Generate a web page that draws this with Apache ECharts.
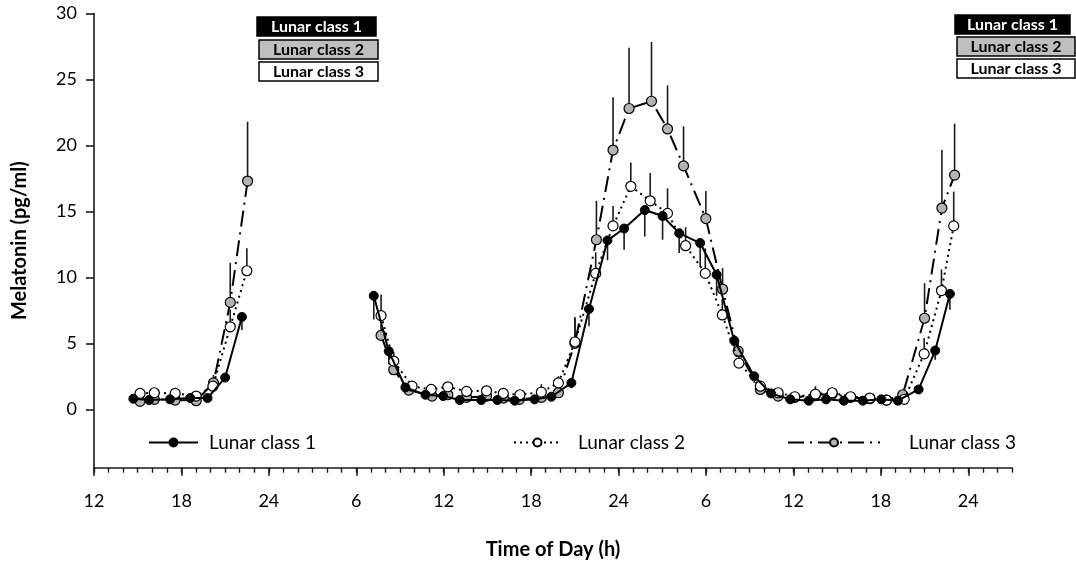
<!DOCTYPE html>
<html><head><meta charset="utf-8">
<script src="https://cdn.jsdelivr.net/npm/echarts@6/dist/echarts.min.js"></script>
<style>html,body{margin:0;padding:0;background:#fff}#c{width:1076px;height:568px}</style>
</head><body><div id="c"></div>
<script>
// ---- data ----
const seriesNames = ['Lunar class 1', 'Lunar class 2', 'Lunar class 3'];
const xTickValues = [12, 18, 24, 30, 36, 42, 48, 54, 60, 66, 72];
const xTickLabels = ['12', '18', '24', '6', '12', '18', '24', '6', '12', '18', '24'];
const yTickValues = [0, 5, 10, 15, 20, 25, 30];

// null marks the gap in sampling (line break)
const hours1 = [14.70, 15.78, 17.22, 18.60, 19.79, 21.0, 22.15, 27,
  31.2, 32.23, 33.37, 34.75, 35.96, 37.1, 38.58, 39.68, 40.87, 42.24, 43.39, 44.76, 45.97,
  47.24, 48.38, 49.8, 51.02, 52.16, 53.6, 54.73, 55.94, 57.31, 58.46, 59.78, 61.05, 62.24,
  63.46, 64.76, 66.03, 67.17, 68.59, 69.73, 70.74];
const mel1 = [0.8, 0.7, 0.75, 0.85, 0.85, 2.4, 7.0, null,
  8.6, 4.4, 1.65, 1.1, 1.0, 0.7, 0.7, 0.7, 0.65, 0.75, 0.95, 2.0, 7.6,
  12.8, 13.7, 15.1, 14.65, 13.35, 12.6, 10.2, 5.2, 2.5, 1.2, 0.75, 0.65, 0.75,
  0.65, 0.65, 0.75, 0.65, 1.5, 4.45, 8.75];
const sem1 = [0.15, 0.15, 0.15, 0.15, 0.15, 0.3, 1.0, null,
  1.8, 1.0, 0.3, 0.2, 0.2, 0.15, 0.15, 0.15, 0.15, 0.15, 0.2, 0.4, 1.3,
  1.5, 1.6, 2.0, 1.8, 1.5, 1.8, 1.6, 0.8, 0.5, 0.2, 0.15, 0.15, 0.15,
  0.15, 0.15, 0.15, 0.15, 0.3, 0.7, 1.2];

const hours2 = [15.16, 16.14, 17.57, 19.01, 20.16, 21.35, 22.49, 27,
  31.7, 32.57, 33.83, 35.14, 36.28, 37.57, 38.94, 40.09, 41.23, 42.7, 43.87, 45.01,
  46.43, 47.62, 48.84, 50.17, 51.36, 52.6, 53.95, 55.12, 56.26, 57.73, 58.95, 60.09,
  61.51, 62.66, 63.92, 65.24, 66.39, 67.6, 68.97, 70.16, 71.0];
const mel2 = [1.2, 1.25, 1.2, 1.0, 1.75, 6.25, 10.5, null,
  7.1, 3.65, 1.75, 1.5, 1.7, 1.35, 1.4, 1.2, 1.1, 1.3, 2.0, 5.1,
  10.3, 13.9, 16.9, 15.8, 14.85, 12.4, 10.3, 7.15, 3.5, 1.75, 1.25, 0.95,
  1.15, 1.25, 0.95, 0.85, 0.7, 0.75, 4.2, 9.0, 13.9];
const sem2 = [0.15, 0.15, 0.15, 0.15, 0.4, 1.3, 1.7, null,
  1.6, 0.7, 0.2, 0.2, 0.3, 0.2, 0.2, 0.2, 0.2, 0.6, 0.5, 1.8,
  1.6, 1.5, 1.8, 2.1, 1.9, 1.4, 1.9, 1.2, 0.8, 0.3, 0.2, 0.2,
  0.6, 0.4, 0.2, 0.2, 0.2, 0.2, 1.2, 1.6, 2.6];

const hours3 = [15.16, 16.14, 17.57, 19.01, 20.2, 21.35, 22.54, 27,
  31.7, 32.57, 33.6, 35.2, 36.28, 37.57, 38.94, 40.1, 41.2, 42.7, 43.87, 45.0,
  46.48, 47.62, 48.72, 50.26, 51.36, 52.46, 53.99, 55.14, 56.21, 57.73, 58.95, 60.09,
  61.51, 62.66, 63.92, 65.24, 66.39, 67.5, 69.0, 70.19, 71.06];
const mel3 = [0.6, 0.75, 0.7, 0.65, 2.0, 8.1, 17.3, null,
  5.6, 3.0, 1.45, 1.0, 1.1, 0.9, 1.0, 0.85, 0.75, 0.9, 1.25, 5.0,
  12.85, 19.65, 22.8, 23.35, 21.25, 18.45, 14.45, 9.1, 4.4, 1.5, 1.0, 0.9,
  1.1, 1.15, 0.9, 0.8, 0.7, 1.1, 6.9, 15.25, 17.75];
const sem3 = [0.1, 0.1, 0.1, 0.1, 0.6, 3.0, 4.5, null,
  0.8, 0.5, 0.2, 0.2, 0.2, 0.2, 0.2, 0.2, 0.2, 0.3, 0.3, 2.0,
  2.95, 4.0, 4.6, 4.5, 3.3, 3.0, 2.1, 1.6, 0.8, 0.3, 0.2, 0.2,
  0.2, 0.2, 0.2, 0.2, 0.2, 0.3, 2.65, 4.4, 3.9];

// ---- build ----
function lineData(h, m) { return h.map((x, i) => [x, m[i] === null ? '-' : m[i]]); }
function errData(h, m, e) {
  const out = [];
  h.forEach((x, i) => { if (m[i] !== null) out.push([x, m[i], e[i]]); });
  return out;
}
function errSeries(data, dir) {
  return {
    type: 'custom', silent: true, z: 1, clip: false,
    encode: { x: 0, y: 1 },
    renderItem: function (params, api) {
      const x = api.value(0), y = api.value(1), e = api.value(2);
      const p0 = api.coord([x, y]);
      const p1 = api.coord([x, y + dir * e]);
      return { type: 'line', shape: { x1: p0[0], y1: p0[1], x2: p1[0], y2: p1[1] },
        style: { stroke: '#1a1a1a', lineWidth: 1.6 } };
    },
    data: data
  };
}
const FONT = 'Lato';
const chart = echarts.init(document.getElementById('c'), null, { renderer: 'canvas' });

function box(x, y, w, h, fill, textColor, label) {
  return [
    { type: 'rect', shape: { x: x, y: y, width: w, height: h },
      style: { fill: fill, stroke: '#000', lineWidth: 1.5 }, z: 100 },
    { type: 'text', x: x + w / 2, y: y + h / 2 + 0.5, z: 101,
      style: { text: label, fill: textColor, font: 'bold 16px ' + FONT, align: 'center', verticalAlign: 'middle' } }
  ];
}
const boxColors = [['#000', '#fff'], ['#bfbfbf', '#000'], ['#fff', '#000']];
const graphics = [];
[[257, 17, 119], [259, 40, 119], [259, 62, 119]].forEach((b, i) =>
  graphics.push(...box(b[0], b[1], b[2], 19, boxColors[i][0], boxColors[i][1], seriesNames[i])));
[[955, 15, 115], [957, 37, 118], [957, 59, 118]].forEach((b, i) =>
  graphics.push(...box(b[0], b[1], b[2], 19, boxColors[i][0], boxColors[i][1], seriesNames[i])));

const legendBase = { orient: 'horizontal', padding: 0, itemHeight: 10,
  textStyle: { fontFamily: FONT, fontSize: 19, color: '#000' } };

const option = {
  animation: false,
  backgroundColor: '#fff',
  grid: { left: 94, right: 64, top: 13.5, bottom: 100.3 },
  graphic: graphics,
  legend: [
    Object.assign({}, legendBase, { data: [seriesNames[0]], left: 148, top: 433, itemWidth: 49,
      textStyle: Object.assign({}, legendBase.textStyle, { padding: [0, 0, 0, 6] }) }),
    Object.assign({}, legendBase, { data: [seriesNames[1]], left: 513, top: 433, itemWidth: 47,
      textStyle: Object.assign({}, legendBase.textStyle, { padding: [0, 0, 0, 12] }) }),
    Object.assign({}, legendBase, { data: [seriesNames[2]], left: 787, top: 433, itemWidth: 92,
      textStyle: Object.assign({}, legendBase.textStyle, { padding: [0, 0, 0, 24] }) })
  ],
  xAxis: [
    { type: 'value', min: 12, max: 75,
      name: 'Time of Day (h)', nameLocation: 'middle', nameGap: 72,
      nameTextStyle: { fontFamily: FONT, fontSize: 20, fontWeight: 'bold', color: '#000' },
      axisLine: { show: true, onZero: false, lineStyle: { color: '#1a1a1a', width: 1.6 } },
      axisTick: { show: true, length: 8, customValues: xTickValues, lineStyle: { color: '#1a1a1a', width: 1.6 } },
      axisLabel: { customValues: xTickValues, margin: 24, fontFamily: FONT, fontSize: 18, color: '#000',
        formatter: v => { const i = xTickValues.indexOf(v); return i >= 0 ? xTickLabels[i] : ''; } },
      splitLine: { show: false } },
    { type: 'value', min: 12, max: 75, interval: 1, position: 'bottom',
      axisLine: { show: false, onZero: false },
      axisTick: { show: true, length: 5, lineStyle: { color: '#1a1a1a', width: 1.4 } },
      axisLabel: { show: false }, splitLine: { show: false } }
  ],
  yAxis: {
    type: 'value', min: -4.43, max: 30,
    name: 'Melatonin (pg/ml)', nameLocation: 'middle', nameGap: 64,
    nameTextStyle: { fontFamily: FONT, fontSize: 20, fontWeight: 'bold', color: '#000' },
    axisLine: { show: true, onZero: false, lineStyle: { color: '#1a1a1a', width: 1.6 } },
    axisTick: { show: true, length: 8, customValues: yTickValues, lineStyle: { color: '#1a1a1a', width: 1.6 } },
    axisLabel: { customValues: yTickValues, margin: 17, fontFamily: FONT, fontSize: 18, color: '#000' },
    splitLine: { show: false }
  },
  series: [
    errSeries(errData(hours1, mel1, sem1), -1),
    errSeries(errData(hours2, mel2, sem2), 1),
    errSeries(errData(hours3, mel3, sem3), 1),
    { name: seriesNames[0], type: 'line', data: lineData(hours1, mel1), z: 4,
      symbol: 'circle', symbolSize: 9, connectNulls: false,
      lineStyle: { color: '#000', width: 2, type: 'solid' },
      itemStyle: { color: '#000', borderColor: '#000', borderWidth: 1 } },
    { name: seriesNames[1], type: 'line', data: lineData(hours2, mel2), z: 3,
      symbol: 'circle', symbolSize: 10, connectNulls: false,
      lineStyle: { color: '#000', width: 2, type: [2, 4] },
      itemStyle: { color: '#fff', borderColor: '#000', borderWidth: 1.2 } },
    { name: seriesNames[2], type: 'line', data: lineData(hours3, mel3), z: 2,
      symbol: 'circle', symbolSize: 10, connectNulls: false,
      lineStyle: { color: '#000', width: 2, type: [16, 6, 2, 6] },
      itemStyle: { color: '#b3b3b3', borderColor: '#000', borderWidth: 1.2 } }
  ]
};
chart.setOption(option);
</script></body></html>
